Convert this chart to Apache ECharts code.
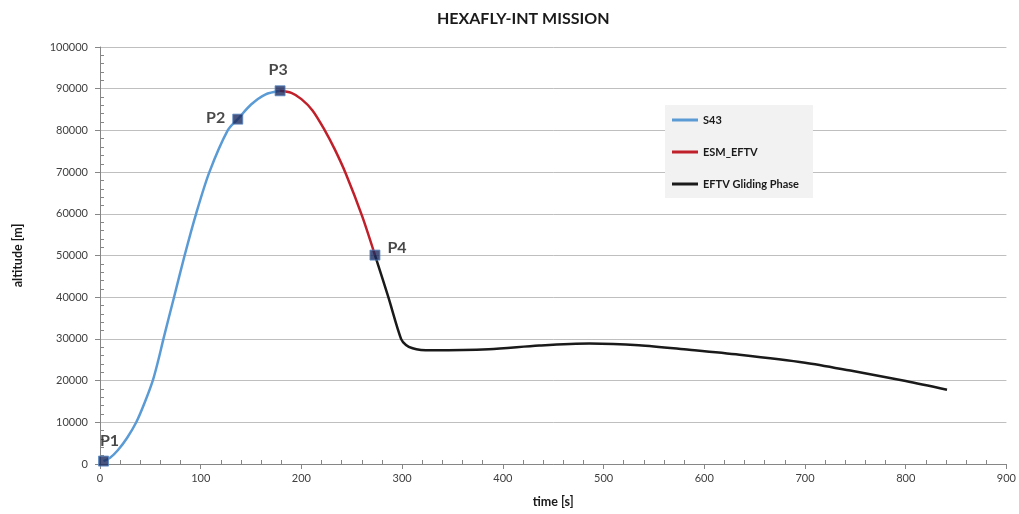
<!DOCTYPE html>
<html>
<head>
<meta charset="utf-8">
<script src="https://cdn.jsdelivr.net/npm/echarts@6/dist/echarts.min.js"></script>
<style>
html,body{margin:0;padding:0;background:#fff;}
#c{width:1019px;height:514px;}
</style>
</head>
<body>
<div id="c"></div>
<script>
const titleText = 'HEXAFLY-INT MISSION';
const seriesNames = ['S43', 'ESM_EFTV', 'EFTV Gliding Phase'];
// [time s, altitude m]
const s43 = [[3.5,700],[10,1500],[17.7,3300],[27,6300],[36,10000],[44,14500],[52.4,20000],[58,25000],[63,30000],[73.5,40000],[84,50000],[95.4,60000],[108.6,70000],[126.8,80000],[136.8,82700],[150,86200],[164,88600],[178.8,89500]];
const esm = [[178.8,89500],[190,89000],[200,87500],[211,84800],[222.8,80200],[233,75500],[244.3,69500],[260.2,59500],[273,50100]];
const glide = [[273,50100],[286.3,40000],[298.9,30000],[303.8,28550],[310.4,27750],[318.7,27350],[330,27250],[386,27500],[436,28400],[486,28900],[535,28500],[585,27400],[635,26200],[700,24300],[745,22400],[800,19900],[841,17800]];
const keyPoints = [['P1',3.5,700],['P2',136.8,82700],['P3',178.8,89500],['P4',273,50100]];
const labelPos = {P1:'top', P2:'left', P3:'top', P4:'right'};
const labelOffset = {P1:[6,0], P2:[0,-1], P3:[-2,0], P4:[0,-7]};

const font = 'Lato, "Open Sans", sans-serif';
const chart = echarts.init(document.getElementById('c'), null, {renderer:'canvas'});
const lineCommon = {type:'line', symbol:'none', smooth:0.3, z:2};
chart.setOption({
  animation:false,
  backgroundColor:'#fff',
  title:{text:titleText, left:432, top:6, textStyle:{fontFamily:font, fontWeight:'bold', fontSize:16, color:'#1a1a1a'}},
  grid:{left:100, right:12, top:47, bottom:50},
  legend:{
    orient:'vertical', left:665, top:105, data:seriesNames,
    backgroundColor:'#f2f2f2', padding:[8,14,7,7], itemGap:18,
    icon:'rect', itemWidth:26, itemHeight:3,
    textStyle:{fontFamily:font, fontWeight:'bold', fontSize:11, color:'#1a1a1a', lineHeight:14}
  },
  xAxis:{
    type:'value', min:0, max:900, interval:100,
    name:'time [s]', nameLocation:'middle', nameGap:31,
    nameTextStyle:{fontFamily:font, fontWeight:'bold', fontSize:12.5, color:'#1a1a1a'},
    axisLine:{lineStyle:{color:'#868686', width:1}},
    axisTick:{show:true, length:5, lineStyle:{color:'#868686'}},
    minorTick:{show:true, splitNumber:5, length:-4, lineStyle:{color:'#868686'}},
    axisLabel:{fontFamily:font, fontSize:11, color:'#404040', margin:9},
    splitLine:{show:false}
  },
  yAxis:{
    type:'value', min:0, max:100000, interval:10000,
    name:'altitude [m]', nameLocation:'middle', nameGap:76, nameRotate:90,
    nameTextStyle:{fontFamily:font, fontWeight:'bold', fontSize:12.5, color:'#1a1a1a'},
    axisLine:{show:true, lineStyle:{color:'#868686', width:1}},
    axisTick:{show:true, length:5, lineStyle:{color:'#868686'}},
    minorTick:{show:true, splitNumber:5, length:-4, lineStyle:{color:'#868686'}},
    axisLabel:{fontFamily:font, fontSize:11, color:'#404040', margin:12, formatter:v => String(v)},
    splitLine:{show:true, lineStyle:{color:'#bfbfbf', width:1}}
  },
  series:[
    Object.assign({}, lineCommon, {name:seriesNames[0], data:s43, color:'#5b9bd5', lineStyle:{width:2.5, color:'#5b9bd5'}}),
    Object.assign({}, lineCommon, {name:seriesNames[1], data:esm, color:'#c0202a', lineStyle:{width:2.5, color:'#c0202a'}}),
    Object.assign({}, lineCommon, {name:seriesNames[2], data:glide, color:'#1a1a1a', lineStyle:{width:2.5, color:'#1a1a1a'}}),
    {
      type:'scatter', name:'points', symbol:'rect', symbolSize:10, z:5,
      itemStyle:{color:'#1c2b5e', borderColor:'#5a8ac6', borderWidth:1},
      data:keyPoints.map(p => ({name:p[0], value:[p[1], p[2]],
        label:{show:true, position:labelPos[p[0]], offset:labelOffset[p[0]], distance:7,
          formatter:p[0], fontFamily:font, fontWeight:'bold', fontSize:16, color:'#1a1a1a'}}))
    }
  ]
});
</script>
</body>
</html>
